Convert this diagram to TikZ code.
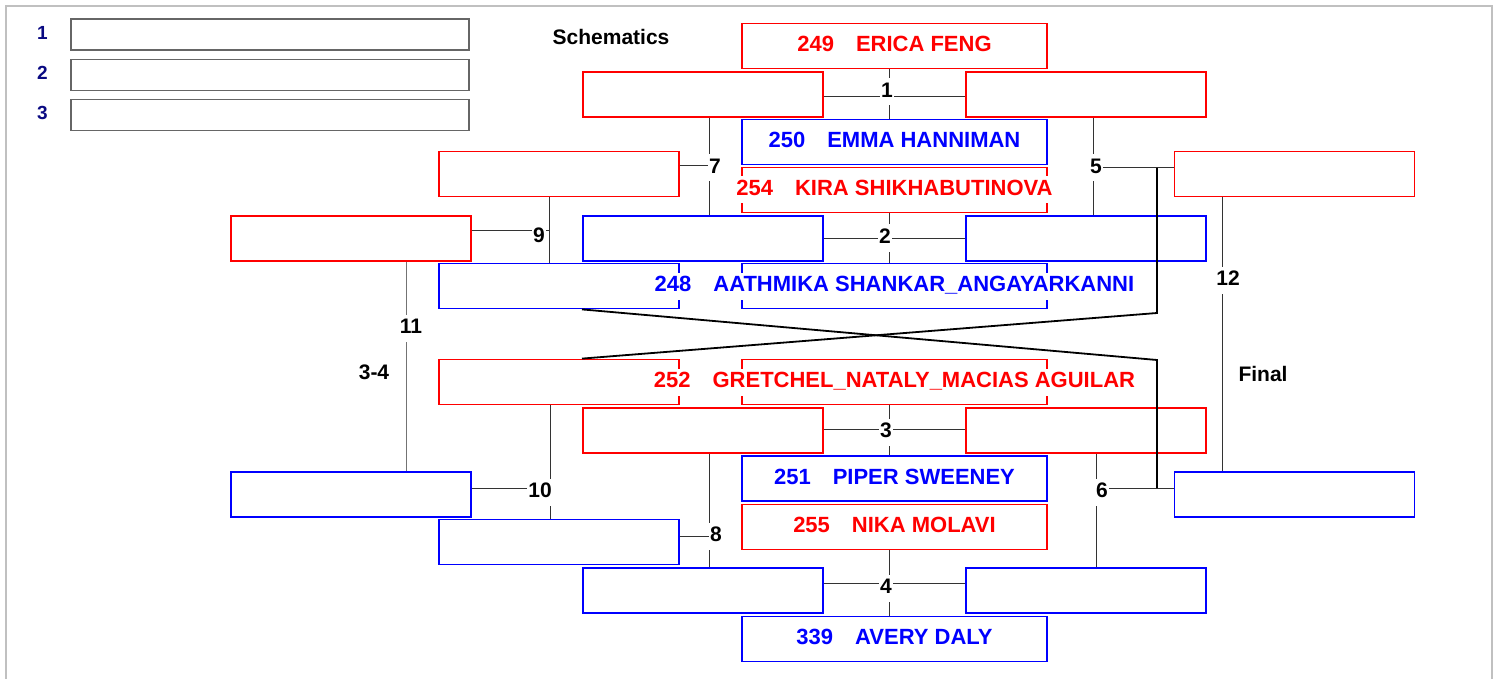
\documentclass[tikz,border=0pt]{standalone}
\usepackage{fontspec}
\setmainfont{Liberation Sans}
\usetikzlibrary{positioning}
\definecolor{legendnum}{RGB}{10,10,130}
\definecolor{framegray}{RGB}{192,192,192}

\begin{document}
\begin{tikzpicture}[
  x=1pt,y=-1pt,
  slot/.style={draw,line width=1.8pt,minimum width=240pt,minimum height=45pt,inner sep=0pt},
  seed/.style={slot,minimum width=305pt},
  legbox/.style={draw=black!60,line width=1.6pt,minimum width=398pt,minimum height=31pt,inner sep=0pt},
  who/.style={fill=white,inner sep=3pt,text height=16pt,text depth=5pt,font=\bfseries\fontsize{22}{24}\selectfont},
  tag/.style={fill=white,inner xsep=1pt,inner ysep=3pt,text height=16pt,text depth=5pt,font=\bfseries\fontsize{21}{24}\selectfont},
  plain/.style={font=\bfseries\fontsize{21}{24}\selectfont},
  wire/.style={draw=black!80,line width=1pt},
  cross/.style={draw=black,line width=1.8pt}
]
\useasboundingbox (0,0) rectangle (1499,679);
\draw[framegray,line width=2.5pt] (6,700) -- (6,6) -- (1492,6) -- (1492,700);

\foreach \i/\y in {1/34.5,2/75,3/115}{
  \node[legbox] (leg\i) at (270,\y) {};
  \node[font=\bfseries\fontsize{19}{22}\selectfont,text=legendnum,left=19pt of leg\i,yshift=2pt] (legnum\i) {\i};
}
\node[plain] (schem) at (611,37) {Schematics};
\node[plain] (bronze) at (374,372) {3-4};
\node[plain] (final) at (1263,374) {Final};

\node[seed,red] (b249) at (894.5,46) {};
\node[slot,red] (r1l) at (703,94.5) {};
\node[slot,red] (r1r) at (1086,94.5) {};
\node[seed,blue] (b250) at (894.5,142) {};
\node[seed,red] (b254) at (894.5,190) {};
\node[slot,blue] (r2l) at (703,238.5) {};
\node[slot,blue] (r2r) at (1086,238.5) {};
\node[seed,blue] (b248) at (894.5,286) {};

\node[slot,red] (q7) at (559,174) {};
\node[slot,red] (s9) at (351,238.5) {};
\node[slot,blue] (p1) at (559,286) {};
\node[slot,red] (p2) at (559,382) {};
\node[slot,blue] (s10) at (351,494.5) {};
\node[slot,blue] (q8) at (559,542) {};
\node[slot,red] (w5) at (1294.5,174) {};
\node[slot,blue] (w6) at (1294.5,494.5) {};

\node[seed,red] (b252) at (894.5,382) {};
\node[slot,red] (r3l) at (703,430.5) {};
\node[slot,red] (r3r) at (1086,430.5) {};
\node[seed,blue] (b251) at (894.5,478.5) {};
\node[seed,red] (b255) at (894.5,527) {};
\node[slot,blue] (r4l) at (703,590.5) {};
\node[slot,blue] (r4r) at (1086,590.5) {};
\node[seed,blue] (b339) at (894.5,639) {};

\foreach \m/\jy/\up/\down/\l/\r in {1/97/b249/b250/r1l/r1r,2/238/b254/b248/r2l/r2r,3/429/b252/b251/r3l/r3r,4/583/b255/b339/r4l/r4r}{
  \coordinate (j\m) at (889,\jy);
  \draw[wire] (j\m |- \up.south) -- (j\m |- \down.north);
  \draw[wire] (\l.east |- j\m) -- (\r.west |- j\m);
}

\coordinate (j5) at (1093,168);
\draw[wire] (j5 |- r1r.south) -- (j5 |- r2r.north);
\draw[wire] (j5) -- (w5.west |- j5);
\coordinate (j6) at (1096,488);
\draw[wire] (j6 |- r3r.south) -- (j6 |- r4r.north);
\draw[wire] (j6) -- (w6.west |- j6);
\coordinate (j7) at (709,166);
\draw[wire] (j7 |- r1l.south) -- (j7 |- r2l.north);
\draw[wire] (q7.east |- j7) -- (j7);
\coordinate (j8) at (709,536);
\draw[wire] (j8 |- r3l.south) -- (j8 |- r4l.north);
\draw[wire] (q8.east |- j8) -- (j8);
\coordinate (j9) at (549,231);
\draw[wire] (j9 |- q7.south) -- (j9 |- p1.north);
\draw[wire] (s9.east |- j9) -- (j9);
\coordinate (j10) at (550,488);
\draw[wire] (j10 |- p2.south) -- (j10 |- q8.north);
\draw[wire] (s10.east |- j10) -- (j10);
\coordinate (j11) at (406,326);
\draw[wire,black!55] (j11 |- s9.south) -- (j11 |- s10.north);
\coordinate (j12) at (1222,278);
\draw[wire] (j12 |- w5.south) -- (j12 |- w6.north);

\coordinate (k5) at (1157,168);
\coordinate (k6) at (1157,488);
\coordinate (c1) at (1157,313);
\coordinate (c2) at (1157,360);
\draw[cross] (k5) -- (c1) -- ([xshift=23pt]p2.north);
\draw[cross] ([xshift=23pt]p1.south) -- (c2) -- (k6);

\node[who,text=red] (t249) at (b249) {249\hspace{22pt}ERICA FENG};
\node[who,text=blue] (t250) at (b250) {250\hspace{22pt}EMMA HANNIMAN};
\node[who,text=red] (t254) at (b254) {254\hspace{22pt}KIRA SHIKHABUTINOVA};
\node[who,text=blue] (t248) at (b248) {248\hspace{22pt}AATHMIKA SHANKAR\_ANGAYARKANNI};
\node[who,text=red] (t252) at (b252) {252\hspace{22pt}GRETCHEL\_NATALY\_MACIAS AGUILAR};
\node[who,text=blue] (t251) at (b251) {251\hspace{22pt}PIPER SWEENEY};
\node[who,text=red] (t255) at (b255) {255\hspace{22pt}NIKA MOLAVI};
\node[who,text=blue] (t339) at (b339) {339\hspace{22pt}AVERY DALY};

\node[tag] (m1) at (887,92) {1};
\node[tag] (m2) at (885,238) {2};
\node[tag] (m3) at (886,432) {3};
\node[tag] (m4) at (886,588) {4};
\node[tag] (m5) at (1096,168) {5};
\node[tag] (m6) at (1102,492) {6};
\node[tag] (m7) at (715,168) {7};
\node[tag] (m8) at (716,536) {8};
\node[tag] (m9) at (539,237) {9};
\node[tag] (m10) at (540,492) {10};
\node[tag] (m11) at (411,328) {11};
\node[tag] (m12) at (1228,280) {12};
\end{tikzpicture}
\end{document}
